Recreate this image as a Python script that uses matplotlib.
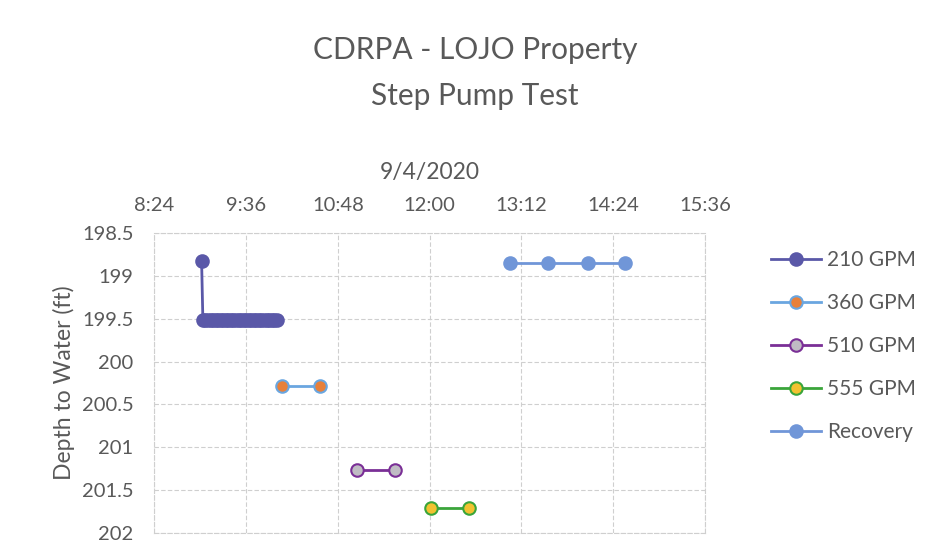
import datetime as dt
import matplotlib
matplotlib.use('Agg')
import matplotlib.pyplot as plt
import matplotlib.dates as mdates
import pandas as pd

'''data'''
day = '2020-09-04'
t_210 = ['9:01', '9:02', '9:04', '9:06', '9:08', '9:10', '9:12', '9:14', '9:16', '9:18',
         '9:20', '9:22', '9:24', '9:26', '9:28', '9:30', '9:32', '9:34', '9:36', '9:38',
         '9:40', '9:42', '9:44', '9:46', '9:48', '9:50', '9:52', '9:54', '9:56', '9:58', '10:00']
d_210 = [198.83, 199.52, 199.52, 199.52, 199.52, 199.52, 199.52, 199.52, 199.52, 199.52,
         199.52, 199.52, 199.52, 199.52, 199.52, 199.52, 199.52, 199.52, 199.52, 199.52,
         199.52, 199.52, 199.52, 199.52, 199.52, 199.52, 199.52, 199.52, 199.52, 199.52, 199.52]
t_360 = ['10:04', '10:34']
d_360 = [200.28, 200.28]
t_510 = ['11:03', '11:33']
d_510 = [201.27, 201.27]
t_555 = ['12:01', '12:31']
d_555 = [201.71, 201.71]
t_rec = ['13:03', '13:33', '14:04', '14:33']
d_rec = [198.85, 198.85, 198.85, 198.85]

x_ticks = ['8:24', '9:36', '10:48', '12:00', '13:12', '14:24', '15:36']
y_ticks = [198.5, 199, 199.5, 200, 200.5, 201, 201.5, 202]

def to_time(lst):
    return pd.to_datetime([f'{day} {t}' for t in lst])

'''style'''
plt.rcParams['font.family'] = ['Lato', 'DejaVu Sans']
text_grey = '#595959'
grid_grey = '#cfcfcf'

fig = plt.figure(figsize=(9.26, 5.6), dpi=100)
ax = fig.add_axes([0.1668, 0.0482, 0.5945, 0.5357])

series = [
    (t_210, d_210, '210 GPM', '#5a58a8', '#5a58a8'),
    (t_360, d_360, '360 GPM', '#6aa6e0', '#e8803a'),
    (t_510, d_510, '510 GPM', '#7a2f96', '#c0bcc4'),
    (t_555, d_555, '555 GPM', '#3aa53a', '#f2c230'),
    (t_rec, d_rec, 'Recovery', '#7096d8', '#7096d8'),
]
for t, d, name, line_c, face_c in series:
    ax.plot(to_time(t), d, color=line_c, lw=2, marker='o', markersize=9,
            markerfacecolor=face_c, markeredgecolor=line_c, markeredgewidth=1.5,
            label=name, zorder=3)

# axes limits and ticks
xt = to_time(x_ticks)
ax.set_xlim(xt[0], xt[-1])
ax.set_xticks(xt)
ax.xaxis.set_major_formatter(mdates.DateFormatter('%-H:%M'))
ax.xaxis.tick_top()
ax.xaxis.set_label_position('top')
ax.set_xlabel('9/4/2020', fontsize=16.5, color=text_grey, labelpad=13)

ax.set_ylim(202, 198.5)
ax.set_yticks(y_ticks)
ax.set_yticklabels([f'{y:g}' for y in y_ticks])
ax.set_ylabel('Depth to Water (ft)', fontsize=16.5, color=text_grey, labelpad=5)

ax.tick_params(axis='both', length=0, labelsize=14.5, labelcolor=text_grey)
ax.tick_params(axis='x', pad=13.5)
ax.tick_params(axis='y', pad=15)
ax.grid(True, color=grid_grey, linestyle=(0, (4, 2)), lw=0.8)
for s in ax.spines.values():
    s.set_color(grid_grey)
    s.set_linestyle((0, (4, 2)))
    s.set_linewidth(0.8)

# title
fig.text(0.513, 0.91, 'CDRPA - LOJO Property', ha='center', va='center',
         fontsize=21.5, color=text_grey)
fig.text(0.513, 0.828, 'Step Pump Test', ha='center', va='center',
         fontsize=21.5, color=text_grey)

leg = ax.legend(loc='upper left', bbox_to_anchor=(1.086, 1.005), frameon=False,
                fontsize=15, labelspacing=1.1, handlelength=2.4, handletextpad=0.3)
for txt in leg.get_texts():
    txt.set_color(text_grey)

fig.savefig('out.png', dpi=100)
